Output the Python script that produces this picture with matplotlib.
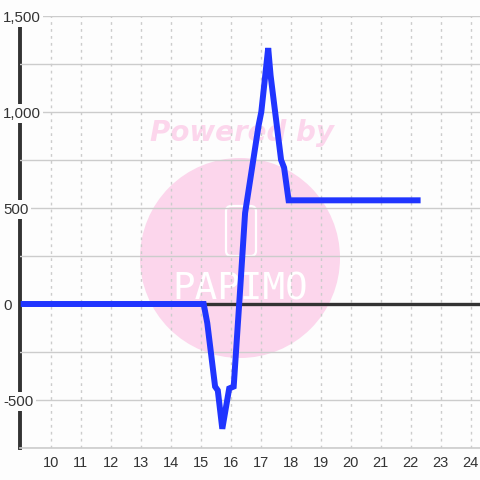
import matplotlib
matplotlib.use('Agg')
from matplotlib import pyplot as plt
from matplotlib.patches import Ellipse, FancyBboxPatch
from matplotlib.ticker import FuncFormatter, MultipleLocator
import numpy as np

# series
hours = [9.0, 15.1, 15.22, 15.48, 15.57, 15.72, 15.95, 16.1, 16.3, 16.48,
         16.93, 17.02, 17.25, 17.33, 17.68, 17.78, 17.93, 22.33]
values = [0, 0, -100, -430, -450, -650, -440, -430, 40, 474,
          930, 1000, 1333, 1190, 750, 710, 540, 540]

xticks = list(range(10, 25))
yticks = [-500, 0, 500, 1000, 1500]

bg = '#fdfdfd'
txt = '#333333'
grid = '#cccccc'

plt.rcParams['font.family'] = ['Liberation Sans', 'DejaVu Sans']

fig = plt.figure(figsize=(4.8, 4.8), dpi=100, facecolor=bg)
ax = fig.add_axes([20 / 480, 32 / 480, 460 / 480, 432 / 480])
ax.set_facecolor(bg)

ax.set_xlim(8.977, 24.31)
ax.set_ylim(-750, 1500)

# watermark
ax.add_patch(Ellipse((220 / 460, 190 / 432), 200 / 460, 200 / 432,
                     transform=ax.transAxes, facecolor='#fcd6ec',
                     edgecolor='none', zorder=1))
ax.add_patch(FancyBboxPatch((206 / 460, 192 / 432), 30 / 460, 50 / 432,
                            boxstyle='round,pad=0,rounding_size=0.012',
                            transform=ax.transAxes, facecolor='none',
                            edgecolor='white', lw=1.6, zorder=1.1))
ax.text(220 / 460, 158 / 432, 'PAPIMO', transform=ax.transAxes,
        ha='center', va='center', color='white', fontsize=27,
        family='DejaVu Sans Mono', zorder=1.1)
ax.text(222 / 460, 315 / 432, 'Powered by', transform=ax.transAxes,
        ha='center', va='center', color='#fcd6ec', fontsize=20,
        family='DejaVu Sans', fontweight='bold', fontstyle='italic',
        zorder=1.1)

# grid
ax.set_xticks(xticks)
ax.set_yticks(yticks)
ax.yaxis.set_minor_locator(MultipleLocator(250))
ax.grid(axis='x', color=grid, linestyle=(0, (2, 3)), lw=1)
ax.grid(axis='y', which='both', color=grid, linestyle='-', lw=1)
ax.set_axisbelow('line')

ax.yaxis.set_major_formatter(FuncFormatter(lambda v, p: f'{int(v):,}'))
ax.tick_params(axis='x', length=0, pad=6, labelsize=10.5, labelcolor=txt)
ax.tick_params(axis='y', which='both', length=0, pad=12, labelsize=10.8,
               labelcolor=txt)
for lbl in ax.get_yticklabels():
    lbl.set_horizontalalignment('left')
    lbl.set_bbox(dict(facecolor=bg, edgecolor='none', pad=1.5))

for s in ['top', 'right', 'left']:
    ax.spines[s].set_visible(False)
ax.spines['bottom'].set_color(grid)
ax.spines['bottom'].set_linewidth(1.2)

# left axis line drawn below the labels so they break it
ax.axvline(8.977, color=txt, lw=2.8, zorder=1.2, clip_on=False)
ax.axhline(0, color=txt, lw=2.4, zorder=1.8)

ax.plot(hours, values, color='#2035ff', lw=4.3, zorder=2,
        solid_joinstyle='miter', solid_capstyle='butt')

fig.savefig('out.png', dpi=100, facecolor=bg)
